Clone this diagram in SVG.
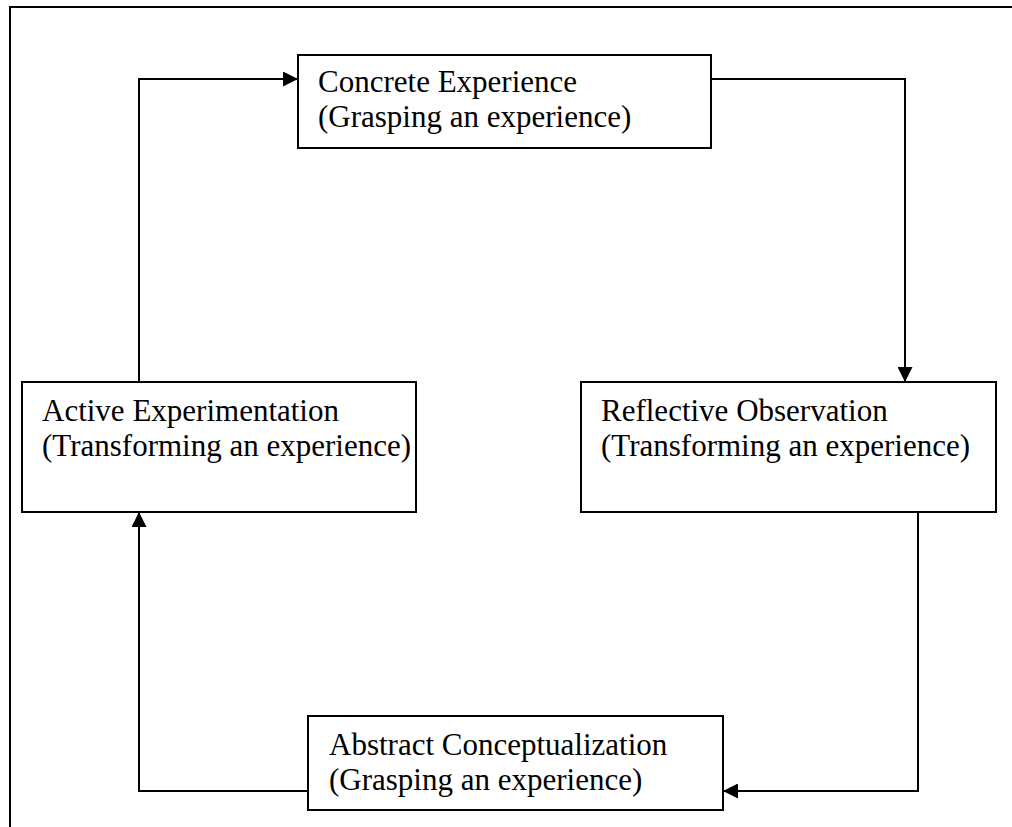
<svg xmlns="http://www.w3.org/2000/svg" width="1012" height="827" viewBox="0 0 1012 827">
<defs>
<style>
.box{fill:#fff;stroke:#000;stroke-width:2}
.t{font-family:"Liberation Serif","Times New Roman",serif;font-size:31px;fill:#000}
.c{fill:none;stroke:#000;stroke-width:2}
</style>
<marker id="ah" viewBox="0 0 10 10" refX="10" refY="5" markerWidth="17" markerHeight="15" markerUnits="userSpaceOnUse" orient="auto">
<path d="M0,0 L10,5 L0,10 Z" fill="#000"/>
</marker>
</defs>
<rect width="1012" height="827" fill="#fff"/>
<g id="frame">
<path d="M10,827 L10,7 L1012,7" class="c"/>
</g>
<g id="connectors">
<path d="M139,382 L139,79 L298,79" class="c" marker-end="url(#ah)"/>
<path d="M711,79 L905,79 L905,382" class="c" marker-end="url(#ah)"/>
<path d="M918,512 L918,791 L723,791" class="c" marker-end="url(#ah)"/>
<path d="M308,791 L139,791 L139,512" class="c" marker-end="url(#ah)"/>
</g>
<g id="concrete">
<rect x="298" y="55" width="413" height="93" class="box"/>
<text class="t" x="318" y="92">Concrete Experience</text>
<text class="t" x="318" y="127">(Grasping an experience)</text>
</g>
<g id="active">
<rect x="22" y="382" width="394" height="130" class="box"/>
<text class="t" x="42" y="421">Active Experimentation</text>
<text class="t" x="42" y="456">(Transforming an experience)</text>
</g>
<g id="reflective">
<rect x="581" y="382" width="415" height="130" class="box"/>
<text class="t" x="601" y="421">Reflective Observation</text>
<text class="t" x="601" y="456">(Transforming an experience)</text>
</g>
<g id="abstract">
<rect x="308" y="716" width="415" height="94" class="box"/>
<text class="t" x="329" y="755">Abstract Conceptualization</text>
<text class="t" x="329" y="790">(Grasping an experience)</text>
</g>
</svg>
